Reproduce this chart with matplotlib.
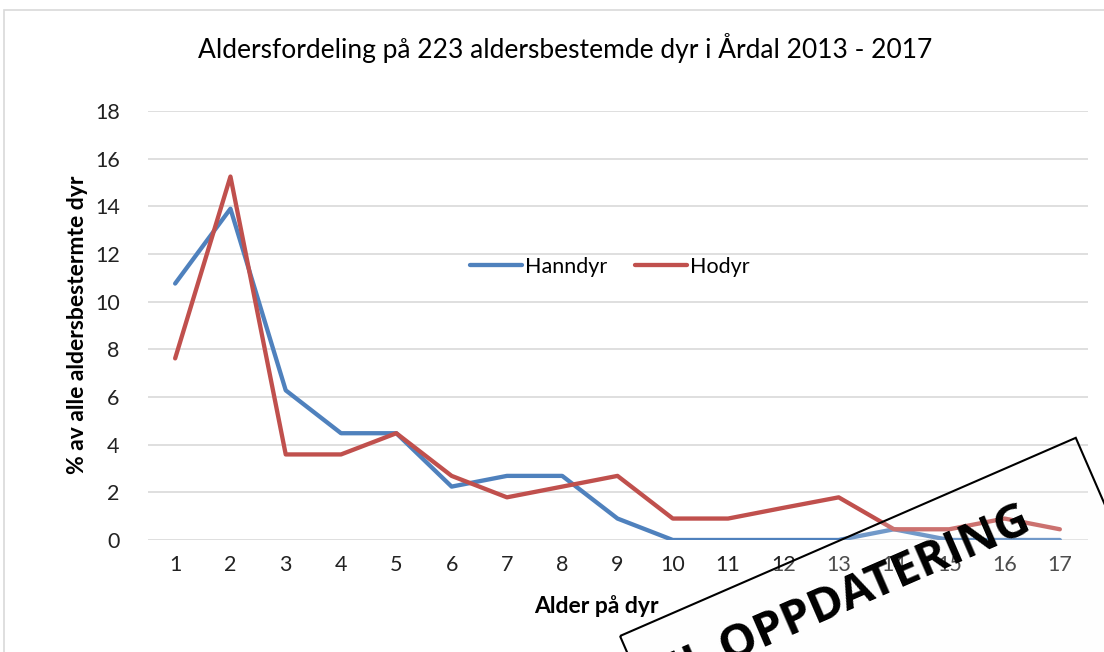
import matplotlib
matplotlib.use("Agg")
import matplotlib.pyplot as plt
from matplotlib.patches import Polygon, Rectangle
import numpy as np

plt.rcParams['font.family'] = ['Lato', 'DejaVu Sans']

ages = list(range(1, 18))
hanndyr = [10.76, 13.9, 6.28, 4.48, 4.48, 2.24, 2.69, 2.69, 0.9, 0, 0, 0, 0, 0.45, 0, 0, 0]
hodyr = [7.62, 15.25, 3.59, 3.59, 4.48, 2.69, 1.79, 2.24, 2.69, 0.9, 0.9, 1.35, 1.79, 0.45, 0.45, 0.9, 0.45]
yticks = list(range(0, 19, 2))

title = "Aldersfordeling på 223 aldersbestemde dyr i Årdal 2013 - 2017"
ylabel = "% av alle aldersbestermte dyr"
xlabel = "Alder på dyr"
stamp = "TIL OPPDATERING"

W, H = 1104, 652
fig = plt.figure(figsize=(W / 100, H / 100), dpi=100)
fig.patch.set_facecolor('white')

# chart area border
fig.add_artist(Rectangle((4 / W, -0.1), 1.2, 1 - 10 / H + 0.1, transform=fig.transFigure,
                         fill=False, edgecolor='#D9D9D9', linewidth=1.2))

ax = fig.add_axes([147.5 / W, 1 - 540 / H, (1087.5 - 147.5) / W, (540 - 111) / H])
ax.plot(ages, hanndyr, color='#4F81BD', lw=3.1, label='Hanndyr', solid_capstyle='round')
ax.plot(ages, hodyr, color='#C0504D', lw=3.1, label='Hodyr', solid_capstyle='round')
ax.set_xlim(0.5, 17.5)
ax.set_ylim(0, 18)
ax.set_yticks(yticks)
ax.set_xticks(ages)
ax.grid(axis='y', color='#D9D9D9', lw=1.2)
ax.set_axisbelow(True)
for s in ax.spines.values():
    s.set_visible(False)
ax.tick_params(length=0, labelsize=15.5, colors='#222222', pad=11)
ax.tick_params(axis='y', pad=20)

fig.text(565 / W, 1 - 48 / H, title, fontsize=19, ha='center', va='center')
fig.text(78 / W, 1 - 325 / H, ylabel, fontsize=16.5, fontweight='bold', rotation=90,
         ha='center', va='center')
fig.text(596 / W, 1 - 606 / H, xlabel, fontsize=16.5, fontweight='bold', ha='center', va='center')

leg = ax.legend(loc='center', bbox_to_anchor=(610 / W, 1 - 267 / H), bbox_transform=fig.transFigure,
                ncol=2, frameon=False, fontsize=15.5, handlelength=2.4, handletextpad=0.15,
                columnspacing=1.3)

# overlay stamp box
ang = np.deg2rad(23.5)
u = np.array([np.cos(ang), -np.sin(ang)])
v = np.array([np.sin(ang), np.cos(ang)])
tl = np.array([620, 636])
tr = tl + u * 497
br = tr + v * 300
bl = tl + v * 300
pts = np.array([tl, tr, br, bl])
pts_fig = np.column_stack([pts[:, 0] / W, 1 - pts[:, 1] / H])
fig.add_artist(Polygon(pts_fig, closed=True, transform=fig.transFigure, facecolor='#FAFAFA',
                       alpha=0.2, edgecolor='none'))
fig.add_artist(Polygon(pts_fig, closed=True, transform=fig.transFigure, fill=False,
                       edgecolor='black', lw=1.5))
fig.text(838 / W, 1 - 602 / H, stamp, fontsize=34, fontweight='bold', rotation=23.5,
         ha='center', va='center', rotation_mode='anchor', family=['Open Sans', 'DejaVu Sans'])

fig.savefig('out.png', dpi=100)
